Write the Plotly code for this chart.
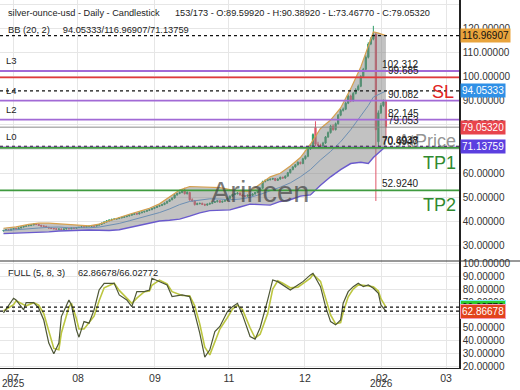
import plotly.graph_objects as go

# ---------------- data ----------------
opens = [36.1, 36.3, 36.6, 36.4, 36.8, 37.1, 37.0, 37.3, 37.7, 38.0,
         38.3, 38.3, 38.6, 38.9, 38.8, 38.4, 38.1, 38.0, 37.6, 37.3,
         37.1, 37.0, 36.8, 36.9, 36.7, 36.9, 37.1, 37.0, 37.3, 37.2,
         37.5, 37.6, 37.8, 37.7, 38.0, 38.0, 38.2, 38.1, 38.5, 38.8,
         39.3, 39.8, 40.3, 40.6, 40.9, 41.0, 41.2, 41.5, 41.7, 42.0,
         42.3, 42.6, 42.9, 43.3, 43.1, 43.6, 43.9, 44.2, 44.6, 44.9,
         45.4, 45.8, 46.3, 46.6, 47.0, 47.6, 48.3, 49.0, 49.7, 51.0,
         51.6, 52.0, 53.0, 51.5, 52.0, 49.0, 48.5, 47.0, 47.4, 47.5,
         47.1, 46.8, 47.2, 47.5, 47.9, 48.2, 48.6, 48.0, 48.4, 48.8,
         49.6, 50.5, 51.2, 51.5, 51.8, 51.0, 50.6, 50.5, 50.9, 50.8,
         51.4, 52.0, 52.8, 53.8, 56.5, 57.0, 57.3, 57.5, 57.8, 57.0,
         57.6, 58.3, 58.0, 58.8, 60.2, 61.5, 62.6, 63.5, 64.5, 64.0,
         66.0, 67.0, 70.0, 71.5, 79.0, 72.0, 71.5, 71.0, 72.5, 75.0,
         76.8, 79.5, 78.0, 80.5, 84.0, 86.0, 86.5, 89.0, 92.0, 90.0,
         93.0, 94.5, 96.0, 100.0, 103.0, 108.0, 113.5, 115.5, 117.5, 73.0,
         85.0, 88.0, 89.5992]
highs = [36.5, 36.8, 36.8, 37.0, 37.3, 37.3, 37.5, 37.9, 38.2, 38.5,
         38.6, 38.8, 39.1, 39.2, 39.0, 38.6, 38.4, 38.2, 37.8, 37.5,
         37.3, 37.2, 37.1, 37.1, 37.1, 37.3, 37.3, 37.5, 37.5, 37.7,
         37.8, 38.0, 38.0, 38.2, 38.3, 38.4, 38.4, 38.7, 39.0, 39.5,
         40.0, 40.5, 40.8, 41.1, 41.3, 41.4, 41.7, 41.9, 42.2, 42.5,
         42.8, 43.1, 43.5, 43.5, 43.8, 44.1, 44.4, 44.8, 45.1, 45.6,
         46.1, 46.6, 46.9, 47.3, 47.9, 48.6, 49.3, 50.0, 51.3, 51.9,
         52.4, 53.4, 54.0, 52.5, 52.3, 49.6, 48.9, 47.8, 47.8, 47.8,
         47.4, 47.4, 47.8, 48.1, 48.4, 48.8, 48.8, 48.6, 49.0, 49.9,
         50.8, 51.5, 51.8, 52.2, 52.0, 51.3, 50.9, 51.1, 51.2, 51.7,
         52.3, 53.1, 54.1, 56.9, 57.4, 57.6, 57.9, 58.1, 58.0, 57.9,
         58.6, 58.6, 59.1, 60.5, 61.8, 62.9, 63.8, 64.9, 64.8, 66.4,
         67.4, 70.4, 72.0, 76.5, 81.5, 73.0, 72.2, 73.0, 75.4, 77.3,
         80.0, 80.2, 81.0, 84.5, 86.6, 87.2, 89.6, 92.6, 92.5, 93.6,
         95.2, 96.7, 100.6, 103.6, 108.8, 114.2, 116.3, 121.0, 118.5, 86.0,
         89.0, 90.5, 90.3892]
lows = [35.9, 36.1, 36.2, 36.3, 36.6, 36.8, 36.9, 37.1, 37.5, 37.8,
        38.0, 38.1, 38.4, 38.5, 38.2, 37.9, 37.8, 37.4, 37.1, 36.9,
        36.8, 36.6, 36.6, 36.5, 36.5, 36.7, 36.8, 36.8, 37.0, 37.0,
        37.3, 37.4, 37.5, 37.5, 37.7, 37.8, 37.9, 37.9, 38.3, 38.6,
        39.1, 39.6, 40.0, 40.3, 40.7, 40.8, 41.0, 41.3, 41.5, 41.8,
        42.1, 42.4, 42.7, 42.8, 42.9, 43.4, 43.7, 44.0, 44.4, 44.7,
        45.1, 45.6, 46.1, 46.4, 46.8, 47.4, 48.1, 48.8, 49.5, 50.7,
        51.3, 51.7, 51.2, 51.2, 48.6, 48.2, 46.6, 46.8, 47.1, 46.8,
        46.4, 46.5, 46.9, 47.2, 47.7, 47.9, 47.7, 47.8, 48.1, 48.5,
        49.4, 50.2, 50.9, 51.2, 50.7, 50.3, 50.2, 50.3, 50.5, 50.5,
        51.1, 51.7, 52.5, 53.5, 56.2, 56.7, 57.0, 57.2, 56.7, 56.8,
        57.3, 57.7, 57.7, 58.5, 59.9, 61.2, 62.3, 63.2, 63.6, 63.7,
        65.6, 66.6, 69.6, 70.8, 71.2, 71.0, 70.5, 70.6, 72.1, 74.6,
        76.4, 77.6, 77.7, 80.1, 83.6, 85.5, 86.1, 88.6, 89.4, 89.6,
        92.6, 94.1, 95.6, 99.6, 102.5, 107.5, 113.0, 115.0, 48.5, 70.5,
        84.5, 87.5, 73.4677]
closes = [36.3, 36.6, 36.4, 36.8, 37.1, 37.0, 37.3, 37.7, 38.0, 38.3,
          38.3, 38.6, 38.9, 38.8, 38.4, 38.1, 38.0, 37.6, 37.3, 37.1,
          37.0, 36.8, 36.9, 36.7, 36.9, 37.1, 37.0, 37.3, 37.2, 37.5,
          37.6, 37.8, 37.7, 38.0, 38.0, 38.2, 38.1, 38.5, 38.8, 39.3,
          39.8, 40.3, 40.6, 40.9, 41.0, 41.2, 41.5, 41.7, 42.0, 42.3,
          42.6, 42.9, 43.3, 43.1, 43.6, 43.9, 44.2, 44.6, 44.9, 45.4,
          45.8, 46.3, 46.6, 47.0, 47.6, 48.3, 49.0, 49.7, 51.0, 51.6,
          52.0, 53.0, 51.5, 52.0, 49.0, 48.5, 47.0, 47.4, 47.5, 47.1,
          46.8, 47.2, 47.5, 47.9, 48.2, 48.6, 48.0, 48.4, 48.8, 49.6,
          50.5, 51.2, 51.5, 51.8, 51.0, 50.6, 50.5, 50.9, 50.8, 51.4,
          52.0, 52.8, 53.8, 56.5, 57.0, 57.3, 57.5, 57.8, 57.0, 57.6,
          58.3, 58.0, 58.8, 60.2, 61.5, 62.6, 63.5, 64.5, 64.0, 66.0,
          67.0, 70.0, 71.5, 76.0, 72.0, 71.5, 71.0, 72.5, 75.0, 76.8,
          79.5, 78.0, 80.5, 84.0, 86.0, 86.5, 89.0, 92.0, 90.0, 93.0,
          94.5, 96.0, 100.0, 103.0, 108.0, 113.5, 115.5, 117.5, 78.0, 85.0,
          88.0, 89.5992, 79.0532]
bars = list(range(len(closes)))

bb_bar = [0, 5, 10, 14, 18, 22, 26, 30, 34, 38, 42, 46, 50, 54, 58, 62, 66, 70,
          74, 78, 82, 86, 90, 94, 98, 102, 106, 110, 114, 118, 122, 126, 130,
          134, 138, 142, 145, 147, 149, 152]
bb_upper = [37.2, 37.8, 38.8, 39.3, 39.3, 39.0, 38.6, 38.2, 38.2, 38.9, 40.3, 41.8,
            43.0, 44.2, 45.5, 47.3, 50.0, 53.0, 54.5, 54.4, 54.3, 54.0, 53.2, 52.6,
            52.5, 55.5, 58.5, 60.0, 63.0, 66.5, 72.0, 78.5, 82.0, 87.0, 95.0, 104.0,
            113.0, 118.5, 118.0, 116.96907]
bb_mid = [36.2, 36.5, 36.9, 37.3, 37.6, 37.7, 37.4, 37.3, 37.4, 37.7, 38.3, 39.2,
          40.3, 41.4, 42.5, 43.7, 45.2, 47.0, 48.3, 49.0, 49.4, 49.3, 49.0, 49.3,
          50.0, 51.2, 52.6, 54.2, 56.0, 58.5, 61.5, 65.5, 69.0, 73.0, 78.0, 83.5,
          88.0, 91.5, 92.5, 94.05333]
bb_lower = [35.0, 35.2, 35.3, 35.4, 35.7, 36.1, 36.3, 36.4, 36.5, 36.4, 36.3, 36.6,
            37.5, 38.5, 39.6, 40.2, 40.5, 41.0, 42.2, 43.6, 44.5, 44.6, 44.8, 46.0,
            47.2, 47.0, 46.8, 48.3, 49.0, 50.5, 51.0, 55.0, 58.5, 61.5, 64.0, 64.5,
            64.0, 66.5, 68.5, 71.13759]

# Full stochastic (5, 8, 3)
st_bar = [0, 4, 5, 8, 9, 12, 14, 16, 18, 20, 22, 23, 26, 27, 29, 30, 32, 34, 36, 38,
          40, 44, 46, 49, 51, 53, 56, 58, 59, 62, 65, 67, 71, 74, 76, 78, 80, 82,
          84, 86, 89, 91, 93, 95, 98, 100, 102, 105, 107, 109, 111, 114, 117, 119,
          122, 123, 126, 128, 130, 132, 134, 135, 137, 139, 141, 143, 145, 147,
          149, 150, 152]
st_k = [61.5, 72.9, 71.6, 63.9, 69.5, 69.5, 65.2, 56.0, 38.1, 29.8, 38.1, 58.7, 71.6,
        67.7, 48.4, 42.7, 54.8, 53.6, 63.9, 79.3, 84.5, 84.5, 75.5, 71.6, 66.4, 78.0,
        78.0, 79.3, 88.4, 85.8, 83.2, 74.2, 75.5, 74.2, 61.3, 45.8, 27.3, 32.9, 47.1,
        51.0, 62.6, 66.4, 69.0, 60.0, 43.2, 41.2, 50.0, 71.6, 87.1, 85.8, 83.2, 79.3,
        83.2, 85.8, 91.0, 92.3, 81.9, 66.4, 54.8, 52.3, 56.1, 69.0, 78.0, 81.9, 84.5,
        81.9, 83.2, 80.6, 76.8, 67.7, 62.86678]
st_d = [63.0, 68.0, 71.0, 67.5, 67.0, 69.5, 67.5, 61.0, 47.0, 34.0, 33.0, 46.0, 66.0,
        69.0, 57.0, 49.0, 49.0, 54.0, 59.0, 71.0, 81.0, 84.5, 79.0, 73.0, 69.0, 73.0,
        78.0, 78.5, 83.0, 87.0, 84.0, 78.0, 75.0, 74.8, 67.0, 53.0, 35.0, 29.0, 39.0,
        49.0, 58.0, 64.5, 67.5, 64.0, 50.0, 42.0, 45.0, 61.0, 80.0, 86.5, 84.5, 81.0,
        81.5, 84.5, 88.5, 91.5, 86.0, 73.0, 60.0, 53.0, 54.0, 62.0, 74.0, 80.0, 83.3,
        83.0, 82.5, 81.8, 78.5, 72.5, 66.02772]

# month ticks (bar index where each label sits)
tick_bar = [3.8, 29.6, 60.2, 89.6, 119.8, 150.4, 175.9]
tick_text = ["07", "08", "09", "11", "12", "02", "03"]
year_text = ["2025", "", "", "", "", "2026", ""]

# horizontal levels
level_names = ["L3", "SL", "L4", "L2", "L0", "TP1", "TP2"]
level_values = [102.312, 99.685, 90.082, 82.145, 70.6938, 70.4947, 52.924]
level_text = ["102.312", "99.685", "90.082", "82.145", "70.6938", "70.4947", "52.9240"]
close_level = 79.053
bb_last = [116.96907, 94.05333, 71.13759]
stoch_last = [66.02772, 62.86678]

# ---------------- figure ----------------
W, H = 520, 390
ML, MR, MT, MB = 0, 61, 0, 22
PW, PH = W - ML - MR, H - MT - MB
split = (PH - 261) / PH  # separation between panels (paper y)


def px(xp):
    return xp / PW


def py(yp):
    return (PH - yp) / PH


fig = go.Figure()

fig.add_trace(go.Scatter(x=bb_bar, y=bb_lower, mode="lines",
                         line=dict(color="#6a5acd", width=1.4),
                         xaxis="x2", yaxis="y", hoverinfo="skip"))
fig.add_trace(go.Scatter(x=bb_bar, y=bb_upper, mode="lines", fill="tonexty",
                         fillcolor="rgba(125,125,125,0.47)",
                         line=dict(color="#d6a04e", width=1.2),
                         xaxis="x2", yaxis="y", hoverinfo="skip"))
fig.add_trace(go.Scatter(x=bb_bar, y=bb_mid, mode="lines",
                         line=dict(color="#6d8fb3", width=1),
                         xaxis="x2", yaxis="y", hoverinfo="skip"))

fig.add_trace(go.Candlestick(x=bars, open=opens, high=highs, low=lows, close=closes,
                             increasing=dict(line=dict(color="#2e9e68", width=1),
                                             fillcolor="#2e9e68"),
                             decreasing=dict(line=dict(color="#e0576a", width=1),
                                             fillcolor="#e0576a"),
                             whiskerwidth=0, xaxis="x2", yaxis="y"))

fig.add_trace(go.Scatter(x=st_bar, y=st_d, mode="lines",
                         line=dict(color="#bcc640", width=1.6),
                         xaxis="x", yaxis="y2", hoverinfo="skip"))
fig.add_trace(go.Scatter(x=st_bar, y=st_k, mode="lines",
                         line=dict(color="#4d5636", width=1.2),
                         xaxis="x", yaxis="y2", hoverinfo="skip"))

xr = [-3.5 / 2.516, (PW - 3.5) / 2.516]
grid = "#e6e6e6"
tf = "Liberation Sans, Arial, sans-serif"
axis_font = dict(family=tf, size=10, color="#333")

fig.update_layout(
    width=W, height=H, margin=dict(l=ML, r=MR, t=MT, b=MB, autoexpand=False),
    paper_bgcolor="white", plot_bgcolor="white", showlegend=False,
    font=dict(family=tf),
    xaxis=dict(domain=[0, 1], anchor="y2", range=xr, tickmode="array",
               tickvals=tick_bar, ticktext=tick_text, showgrid=True, gridcolor=grid,
               showline=True, linecolor="#222", linewidth=1, ticks="",
               tickfont=dict(family=tf, size=10.5, color="#333"), automargin=False,
               zeroline=False, rangeslider=dict(visible=False)),
    xaxis2=dict(domain=[0, 1], anchor="y", matches="x", range=xr, tickmode="array",
                tickvals=tick_bar, showticklabels=False, showgrid=True, gridcolor=grid,
                showline=False, zeroline=False, automargin=False,
                rangeslider=dict(visible=False)),
    yaxis=dict(domain=[split, 1], anchor="x2", side="right", range=[23.65, 131.7],
               dtick=10, tick0=0, tickformat=".5f", showgrid=True, gridcolor=grid,
               showline=True, linecolor="#222", linewidth=1.5, ticks="",
               zeroline=False, automargin=False, tickfont=axis_font),
    yaxis2=dict(domain=[0, split], anchor="x", side="right", range=[18.8, 101.8],
                dtick=10, tick0=0, tickformat=".5f", showgrid=True, gridcolor=grid,
                showline=True, linecolor="#222", linewidth=1.5, ticks="",
                zeroline=False, automargin=False, tickfont=axis_font),
)

shapes = []
# separator across full width
shapes.append(dict(type="line", xref="paper", yref="paper", x0=0, x1=W / PW,
                   y0=split, y1=split, line=dict(color="#333", width=1)))
# BB value dotted lines
for v in bb_last:
    shapes.append(dict(type="line", xref="paper", yref="y", x0=0, x1=1, y0=v, y1=v,
                       line=dict(color="#111", width=1.2, dash="dot")))
level_colors = {"L3": "#a26ad6", "L4": "#a26ad6", "L2": "#a26ad6", "L0": "#a26ad6",
                "SL": "#e23a3a", "TP1": "#3f9a3f", "TP2": "#3f9a3f"}
for name, v in zip(level_names, level_values):
    shapes.append(dict(type="line", xref="paper", yref="y", x0=0, x1=1, y0=v, y1=v,
                       line=dict(color=level_colors[name], width=1.8)))
shapes.append(dict(type="line", xref="paper", yref="y", x0=0, x1=1, y0=close_level,
                   y1=close_level, line=dict(color="#8a8a8a", width=1)))
# stochastic value dotted lines
for v in stoch_last:
    shapes.append(dict(type="line", xref="paper", yref="y2", x0=0, x1=1, y0=v, y1=v,
                       line=dict(color="#111", width=1.2, dash="dot")))
fig.update_layout(shapes=shapes)

ann = []


def text(x, y, s, size=9, color="#222", xanchor="left", yanchor="middle", **kw):
    ann.append(dict(x=x, y=y, xref="paper", yref="paper", text=s, showarrow=False,
                    xanchor=xanchor, yanchor=yanchor,
                    font=dict(family=tf, size=size, color=color), **kw))


text(px(6), py(13), "silver-ounce-usd - Daily - Candlestick &nbsp;&nbsp;&nbsp;&nbsp; "
     "153/173 - O:89.59920 - H:90.38920 - L:73.46770 - C:79.05320", size=9.2)
text(px(6), py(30), "BB (20, 2) &nbsp;&nbsp;&nbsp; 94.05333/116.96907/71.13759",
     size=9.3)
text(px(6), py(273), "FULL (5, 8, 3) &nbsp;&nbsp;&nbsp; 62.86678/66.02772", size=9.3)

# year labels under the month ticks
for tb, yt in zip(tick_bar, year_text):
    if yt:
        ann.append(dict(x=tb, y=py(383.5), xref="x", yref="paper", text=yt,
                        showarrow=False, xanchor="center", yanchor="middle",
                        font=dict(family=tf, size=10, color="#333")))

# watermark texts
text(px(260), py(192), "Arincen", size=29, color="rgba(70,70,70,0.72)",
     xanchor="center")
text(px(427), py(141), "AtPrice", size=18, color="rgba(120,120,120,0.8)",
     xanchor="center")

# left level names
for name, v in zip(level_names, level_values):
    if name.startswith("L"):
        ann.append(dict(x=px(4), y=v, xref="paper", yref="y", text=name,
                        showarrow=False, xanchor="left", yanchor="bottom", yshift=3,
                        font=dict(family=tf, size=9.5, color="#222")))
# right level values
for t, v in zip(level_text, level_values):
    ann.append(dict(x=px(421), y=v, xref="paper", yref="y", text=t, showarrow=False,
                    xanchor="right", yanchor="bottom", yshift=-1,
                    font=dict(family=tf, size=10, color="#222")))
ann.append(dict(x=px(421), y=close_level, xref="paper", yref="y", text="79.053",
                showarrow=False, xanchor="right", yanchor="bottom", yshift=-1,
                font=dict(family=tf, size=10, color="#222")))

# SL / TP big labels
text(px(443), py(92), "SL", size=18, color="#e02424", xanchor="center")
text(px(439), py(163), "TP1", size=18, color="#2f8a2f", xanchor="center")
text(px(439), py(205), "TP2", size=18, color="#2f8a2f", xanchor="center")

# axis value boxes
box_styles = [("#e9a43c", "#111"), ("#2f90e6", "white"), ("#5b3fe0", "white")]
for v, (bg, fg) in zip(bb_last, box_styles):
    ann.append(dict(x=1, y=v, xref="paper", yref="y", text="%.5f" % v,
                    showarrow=False, xanchor="left", yanchor="middle", xshift=1,
                    bgcolor=bg, borderpad=1,
                    font=dict(family=tf, size=10, color=fg)))
ann.append(dict(x=1, y=closes[-1], xref="paper", yref="y", text="%.5f" % closes[-1],
                showarrow=False, xanchor="left", yanchor="middle", xshift=1,
                bgcolor="#e8444c", borderpad=1,
                font=dict(family=tf, size=10, color="white")))
ann.append(dict(x=1, y=stoch_last[0], xref="paper", yref="y2",
                text="%.5f" % stoch_last[0], showarrow=False, xanchor="left",
                yanchor="middle", xshift=1, bgcolor="#2ecb2e", borderpad=1,
                bordercolor="#7ff0f0", borderwidth=1,
                font=dict(family=tf, size=10, color="#111")))
ann.append(dict(x=1, y=stoch_last[1], xref="paper", yref="y2",
                text="%.5f" % stoch_last[1], showarrow=False, xanchor="left",
                yanchor="middle", xshift=1, bgcolor="#e2431c", borderpad=1,
                bordercolor="#f59ab8", borderwidth=1,
                font=dict(family=tf, size=10, color="white")))

fig.update_layout(annotations=ann)
fig.write_html("out.html", config={"displayModeBar": False},
               post_script="document.body.style.margin='0';"
                           "document.body.style.overflow='hidden';")
